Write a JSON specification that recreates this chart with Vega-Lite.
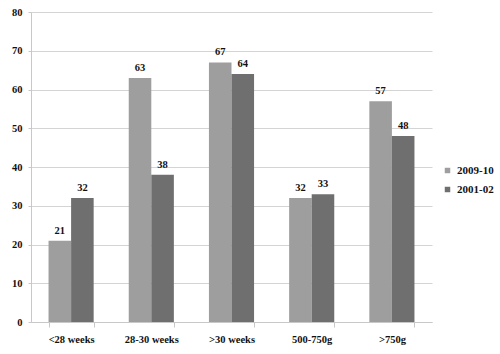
{
  "$schema": "https://vega.github.io/schema/vega-lite/v6.json",
  "width": 401,
  "height": 310,
  "autosize": {"type": "none"},
  "padding": {"left": 31, "top": 12, "right": 68, "bottom": 32},
  "background": "white",
  "config": {
    "view": {"stroke": null},
    "font": "serif"
  },
  "data": {
    "values": [
      {"cat": "<28 weeks", "series": "2009-10", "value": 21},
      {"cat": "<28 weeks", "series": "2001-02", "value": 32},
      {"cat": "28-30 weeks", "series": "2009-10", "value": 63},
      {"cat": "28-30 weeks", "series": "2001-02", "value": 38},
      {"cat": ">30 weeks", "series": "2009-10", "value": 67},
      {"cat": ">30 weeks", "series": "2001-02", "value": 64},
      {"cat": "500-750g", "series": "2009-10", "value": 32},
      {"cat": "500-750g", "series": "2001-02", "value": 33},
      {"cat": ">750g", "series": "2009-10", "value": 57},
      {"cat": ">750g", "series": "2001-02", "value": 48}
    ]
  },
  "encoding": {
    "x": {
      "field": "cat", "type": "nominal", "sort": null,
      "scale": {"paddingInner": 0.4375, "paddingOuter": 0.21875},
      "axis": {
        "title": null, "labelAngle": 0, "labelFont": "Liberation Serif, serif", "labelFontWeight": "bold",
        "labelFontSize": 10.5, "labelColor": "#111", "labelPadding": 7,
        "domainColor": "#c8c8c8", "tickColor": "#c8c8c8", "tickSize": 5, "tickBand": "extent"
      }
    },
    "xOffset": {"field": "series", "type": "nominal", "sort": ["2009-10", "2001-02"], "scale": {"paddingInner": 0, "paddingOuter": 0}},
    "y": {
      "field": "value", "type": "quantitative",
      "scale": {"domain": [0, 80]},
      "axis": {
        "title": null, "values": [0,10,20,30,40,50,60,70,80], "labelOverlap": false,
        "labelFont": "Liberation Serif, serif", "labelFontWeight": "bold", "labelFontSize": 10.5, "labelColor": "#111",
        "labelPadding": 6,
        "domainColor": "#c8c8c8", "tickColor": "#c8c8c8", "tickSize": 3,
        "gridColor": "#d4d4d4", "grid": true
      }
    }
  },
  "layer": [
    {
      "mark": {"type": "bar"},
      "encoding": {
        "color": {
          "field": "series", "type": "nominal", "sort": ["2009-10", "2001-02"],
          "scale": {"domain": ["2009-10", "2001-02"], "range": ["#9e9e9e", "#6f6f6f"]},
          "legend": {
            "title": null, "orient": "none", "legendX": 411, "legendY": 153,
            "symbolType": "square", "symbolSize": 30, "labelFontSize": 11, "labelFont": "Liberation Serif, serif",
            "labelFontWeight": "bold", "labelColor": "#111", "rowPadding": 7, "symbolStrokeWidth": 0
          }
        }
      }
    },
    {
      "mark": {"type": "text", "dy": -10, "fontWeight": "bold", "fontSize": 10.5, "font": "Liberation Serif, serif", "color": "#111"},
      "encoding": {"text": {"field": "value", "type": "quantitative"}}
    }
  ]
}
